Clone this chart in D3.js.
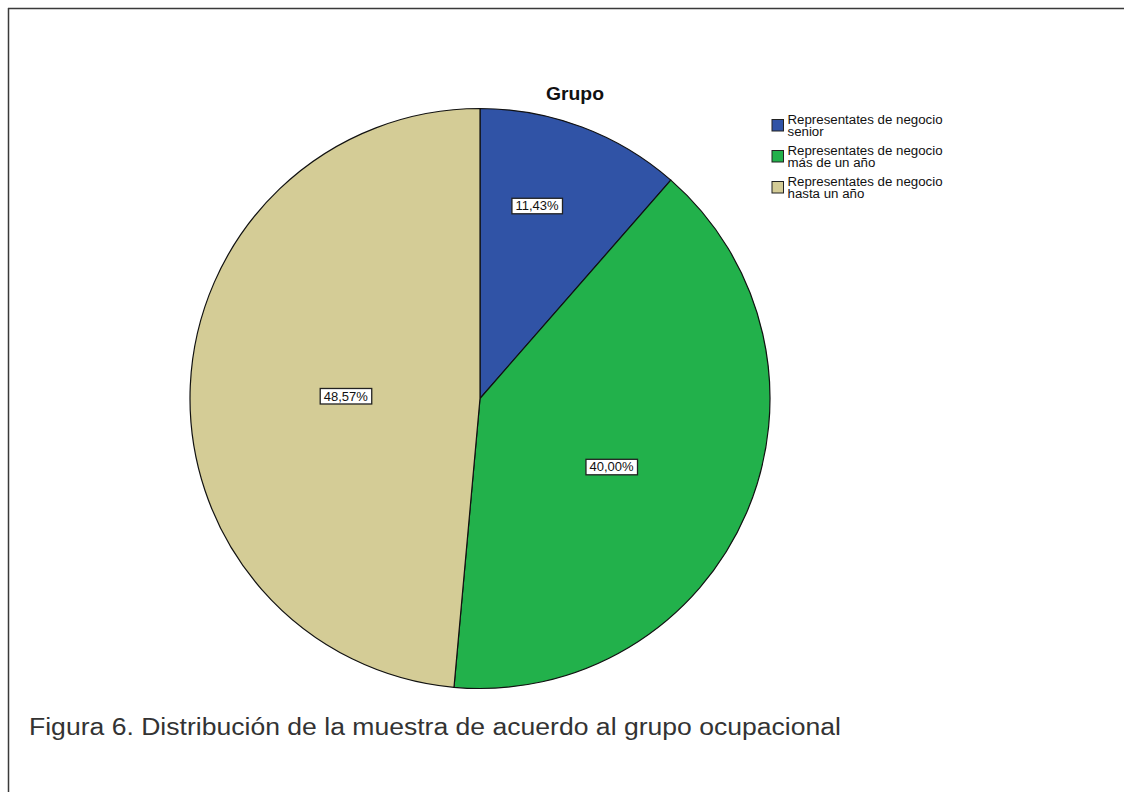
<!DOCTYPE html>
<html>
<head>
<meta charset="utf-8">
<script src="https://cdn.jsdelivr.net/npm/d3@7"></script>
<style>
  html, body { margin: 0; padding: 0; background: #fff; }
  svg { display: block; font-family: Arial, "Liberation Sans", sans-serif; }
</style>
</head>
<body>
<svg id="chart" width="1124" height="792"></svg>
<script>
// Occupational group distribution (percent of sample)
const categories = [
  "Representates de negocio senior",
  "Representates de negocio más de un año",
  "Representates de negocio hasta un año"
];
const legendLines = [
  ["Representates de negocio", "senior"],
  ["Representates de negocio", "más de un año"],
  ["Representates de negocio", "hasta un año"]
];
const values = [11.43, 40.00, 48.57];
const valueLabels = ["11,43%", "40,00%", "48,57%"];
const colors = ["#3053a6", "#22b14b", "#d4cc96"];
// placement of each value box: fraction of the radius and angular nudge (degrees)
const labelRadiusFrac = [0.693, 0.511, 0.463];
const labelAngleShift = [-4.1, 4.3, -1.5];

const svg = d3.select("#chart");

// frame lines (top and left)
svg.append("line").attr("x1", 8).attr("y1", 8.5).attr("x2", 1124).attr("y2", 8.5)
  .attr("stroke", "#3a3a3a").attr("stroke-width", 1.5);
svg.append("line").attr("x1", 8.5).attr("y1", 8).attr("x2", 8.5).attr("y2", 792)
  .attr("stroke", "#3a3a3a").attr("stroke-width", 1.5);

const cx = 480, cy = 398.5, r = 290;

svg.append("text")
  .attr("x", 546).attr("y", 100)
  .attr("font-size", 18).attr("font-weight", "bold")
  .attr("textLength", 58).attr("lengthAdjust", "spacingAndGlyphs")
  .attr("fill", "#111")
  .text("Grupo");

const pie = d3.pie().sort(null).value(d => d);
const arcs = pie(values);
const arc = d3.arc().innerRadius(0).outerRadius(r);

const g = svg.append("g").attr("transform", `translate(${cx},${cy})`);

g.selectAll("path.slice")
  .data(arcs)
  .join("path")
  .attr("class", "slice")
  .attr("d", arc)
  .attr("fill", (d, i) => colors[i])
  .attr("stroke", "#111")
  .attr("stroke-width", 1.2);

// value boxes
arcs.forEach((d, i) => {
  const a = (d.startAngle + d.endAngle) / 2 + labelAngleShift[i] * Math.PI / 180;
  const lr = r * labelRadiusFrac[i];
  const lx = lr * Math.sin(a), ly = -lr * Math.cos(a);
  const lg = g.append("g").attr("transform", `translate(${lx},${ly})`);
  const t = lg.append("text")
    .attr("text-anchor", "middle")
    .attr("dy", "0.36em")
    .attr("font-size", 13)
    .attr("fill", "#111")
    .text(valueLabels[i]);
  const bb = t.node().getBBox();
  lg.insert("rect", "text")
    .attr("x", bb.x - 3.5).attr("y", -7.5)
    .attr("width", bb.width + 7).attr("height", 15.5)
    .attr("fill", "#fff")
    .attr("stroke", "#222").attr("stroke-width", 1.3);
});

// legend
const legend = svg.append("g").attr("transform", "translate(772,113)");
legendLines.forEach((lines, i) => {
  const item = legend.append("g").attr("transform", `translate(0,${i * 31})`);
  item.append("rect")
    .attr("x", 0).attr("y", 6.5).attr("width", 11.5).attr("height", 11.5)
    .attr("fill", colors[i]).attr("stroke", "#222").attr("stroke-width", 1);
  const tg = item.append("g").attr("transform", "translate(15.5,0) scale(1.08,1)");
  lines.forEach((ln, j) => {
    tg.append("text")
      .attr("x", 0).attr("y", 10.5 + j * 12.3)
      .attr("font-size", 12.3)
      .attr("fill", "#111")
      .text(ln);
  });
});

// caption
svg.append("text")
  .attr("x", 29).attr("y", 735)
  .attr("font-size", 23.5)
  .attr("textLength", 812).attr("lengthAdjust", "spacingAndGlyphs")
  .attr("fill", "#333")
  .text("Figura 6. Distribución de la muestra de acuerdo al grupo ocupacional");
</script>
</body>
</html>
